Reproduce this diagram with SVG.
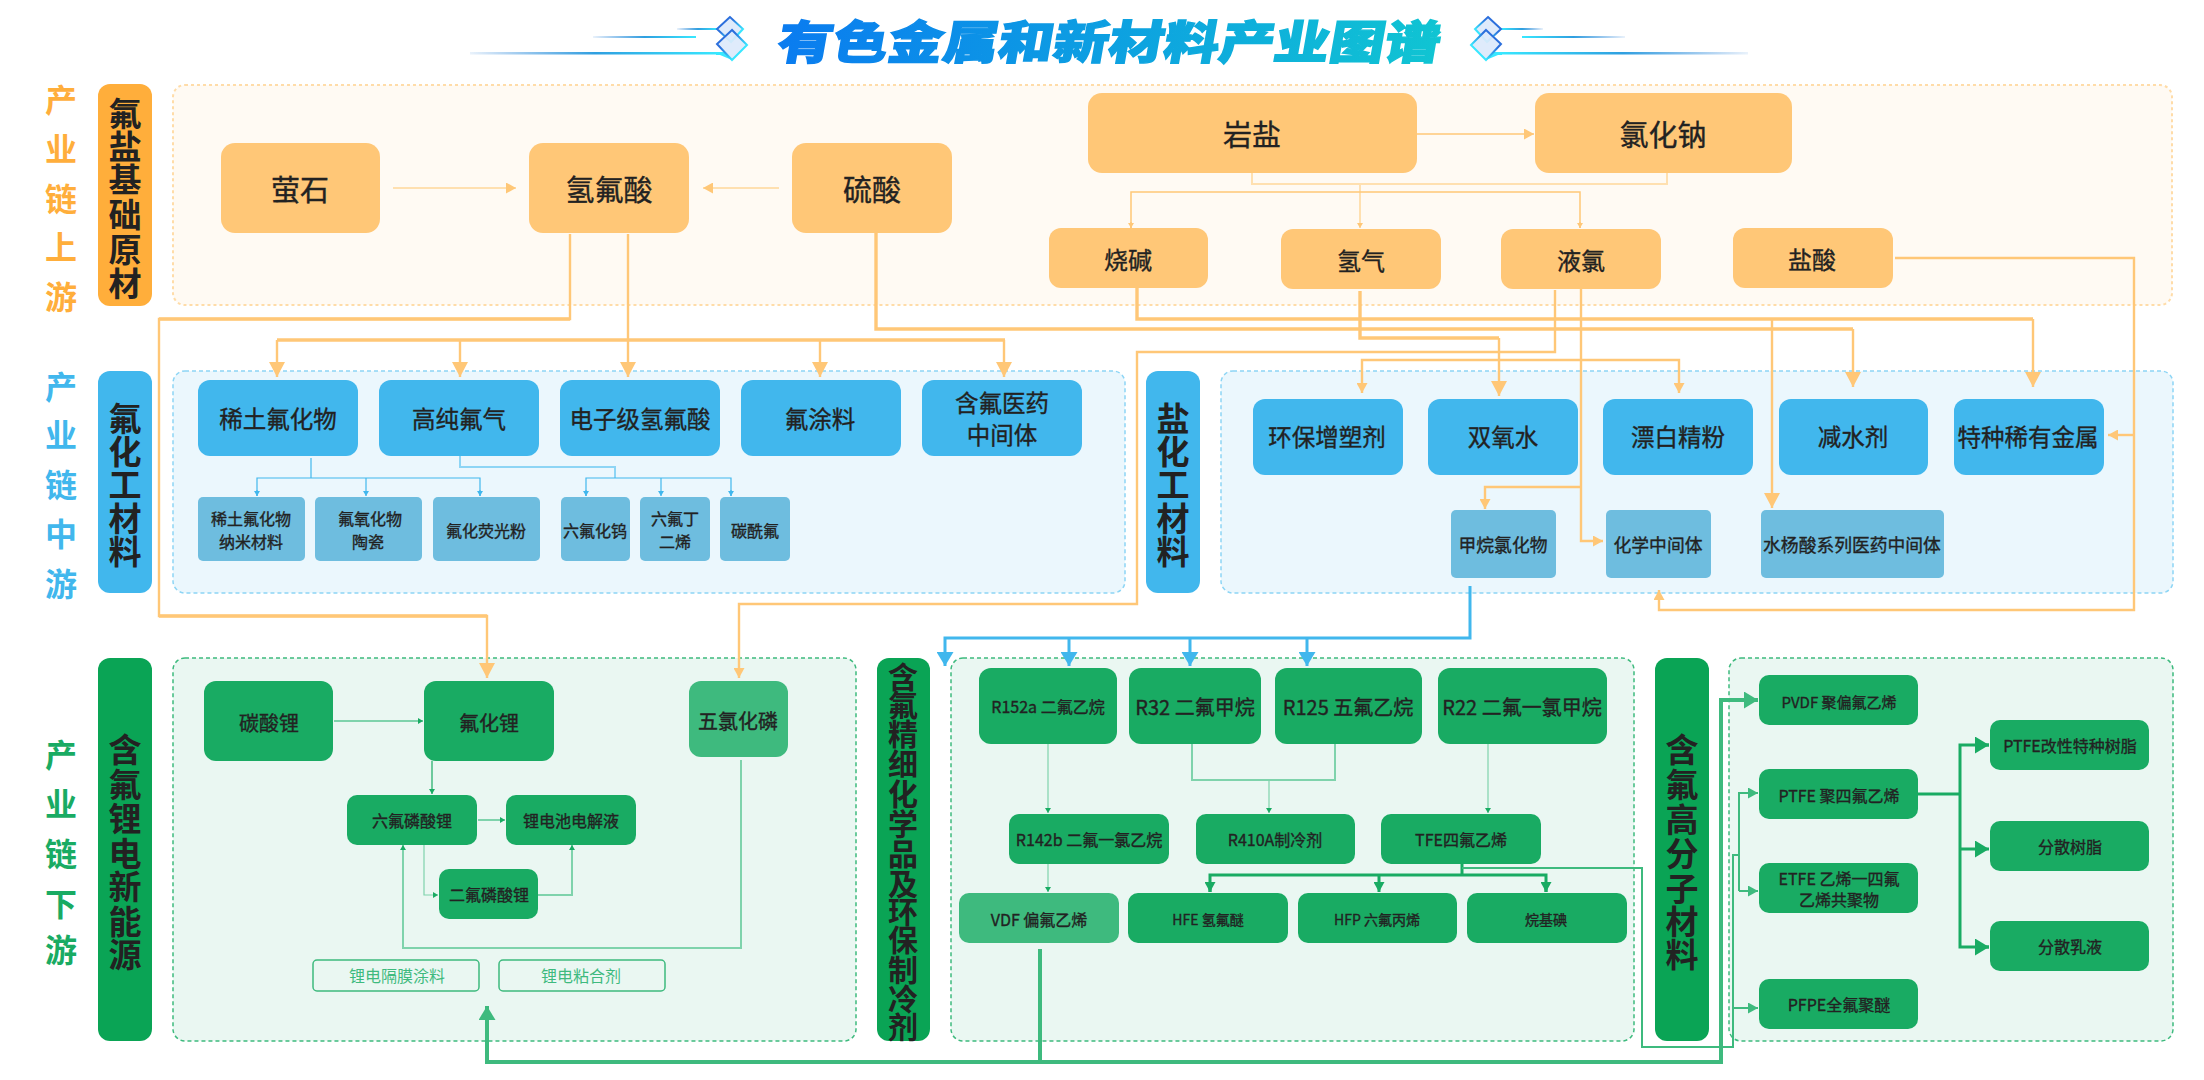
<svg xmlns="http://www.w3.org/2000/svg" width="2204" height="1080" viewBox="0 0 2204 1080">
<style>
text{font-family:"Noto Sans CJK SC","Noto Sans",sans-serif;text-anchor:middle;dominant-baseline:central;fill:#222;font-weight:400;stroke:#222;stroke-width:.35px}
.p1{fill:#FFFAF3;stroke:#FFDCA8;stroke-width:2;stroke-dasharray:3 3}
.p2{fill:#EBF7FD;stroke:#8DD5F5;stroke-width:1.5;stroke-dasharray:4 3}
.p3{fill:#EAF7F2;stroke:#3EBA7E;stroke-width:1.5;stroke-dasharray:4 3}
.o{fill:#FFC777}.b{fill:#41B7ED}.bc{fill:#6EBDDF}.g{fill:#19AB63}.gl{fill:#3EBA7E}.gh{fill:#0AA455}.ob{fill:#41B7ED}.oh{fill:#FFAE3B}
.out{fill:#EAF7F2;stroke:#3EBA7E;stroke-width:1.5}
text.hd{font-size:33px;font-weight:700;stroke:none}
text.hd2{font-size:30px;font-weight:700;stroke:none}
text.chain{font-size:32px;font-weight:700;stroke:none}
.f14{font-size:14px}.f16{font-size:16px}.f15{font-size:15px}.f178{font-size:17.8px}.f20{font-size:20px}.f23{font-size:23.5px}.f24{font-size:24px}.f29{font-size:29px}
text.lt{fill:#3EBA7E;stroke:none}
path.c{fill:none;stroke-linejoin:miter}
.co{stroke:#FFC777;stroke-width:2.4}.co3{stroke:#FFC777;stroke-width:3.4}.co1{stroke:#FFC777;stroke-width:1.5}.col{stroke:#FFE0B0;stroke-width:2}
.cb{stroke:#41B7ED;stroke-width:3}.cb1{stroke:#41B7ED;stroke-width:1.2}.cbl{stroke:#8DD5F5;stroke-width:2}
.cg{stroke:#19AB63;stroke-width:3}.cg1{stroke:#19AB63;stroke-width:1.2}.cgl{stroke:#7FD3AC;stroke-width:2}.cgl1{stroke:#7FD3AC;stroke-width:1.2}.cgm{stroke:#3EBA7E;stroke-width:3}.cgm4{stroke:#3EBA7E;stroke-width:4}.cgm2{stroke:#3EBA7E;stroke-width:2}
.dm{fill:#DCE9FB;fill-opacity:.92;stroke:url(#dg);stroke-width:2}
</style>
<defs>
<linearGradient id="tg" gradientUnits="userSpaceOnUse" x1="-280" y1="0" x2="280" y2="0"><stop offset="0" stop-color="#0A7BF0"/><stop offset="1" stop-color="#10C5D2"/></linearGradient>
<linearGradient id="dg" x1="0" y1="0" x2="1" y2="1"><stop offset=".35" stop-color="#2C6FDC"/><stop offset=".75" stop-color="#38E8FF"/></linearGradient>
<linearGradient id="lf"><stop offset="0" stop-color="#2A7FD8" stop-opacity=".1"/><stop offset=".5" stop-color="#2F9FE0"/><stop offset="1" stop-color="#38E8FF"/></linearGradient>
<linearGradient id="rf"><stop offset="0" stop-color="#38E8FF"/><stop offset=".5" stop-color="#2F9FE0"/><stop offset="1" stop-color="#2A7FD8" stop-opacity=".1"/></linearGradient>
<marker id="ol" markerUnits="userSpaceOnUse" markerWidth="15" markerHeight="16" refX="15" refY="8" orient="auto"><path d="M0 0L15 8L0 16z" fill="#FFC777"/></marker>
<marker id="om" markerUnits="userSpaceOnUse" markerWidth="10" markerHeight="11" refX="10" refY="5.5" orient="auto"><path d="M0 0L10 5.5L0 11z" fill="#FFC777"/></marker>
<marker id="os" markerUnits="userSpaceOnUse" markerWidth="5" markerHeight="6" refX="5" refY="3" orient="auto"><path d="M0 0L5 3L0 6z" fill="#FFC777"/></marker>
<marker id="ml" markerUnits="userSpaceOnUse" markerWidth="14" markerHeight="17" refX="14" refY="8.5" orient="auto"><path d="M0 0L14 8.5L0 17z" fill="#41B7ED"/></marker>
<marker id="bs" markerUnits="userSpaceOnUse" markerWidth="5" markerHeight="6" refX="5" refY="3" orient="auto"><path d="M0 0L5 3L0 6z" fill="#41B7ED"/></marker>
<marker id="gl" markerUnits="userSpaceOnUse" markerWidth="14" markerHeight="17" refX="14" refY="8.5" orient="auto"><path d="M0 0L14 8.5L0 17z" fill="#19AB63"/></marker>
<marker id="gm" markerUnits="userSpaceOnUse" markerWidth="10" markerHeight="11" refX="10" refY="5.5" orient="auto"><path d="M0 0L10 5.5L0 11z" fill="#19AB63"/></marker>
<marker id="gs" markerUnits="userSpaceOnUse" markerWidth="5" markerHeight="6" refX="5" refY="3" orient="auto"><path d="M0 0L5 3L0 6z" fill="#19AB63"/></marker>
<marker id="hl" markerUnits="userSpaceOnUse" markerWidth="14" markerHeight="17" refX="14" refY="8.5" orient="auto"><path d="M0 0L14 8.5L0 17z" fill="#3EBA7E"/></marker>
<marker id="hm" markerUnits="userSpaceOnUse" markerWidth="10" markerHeight="11" refX="10" refY="5.5" orient="auto"><path d="M0 0L10 5.5L0 11z" fill="#3EBA7E"/></marker>
<g id="deco"><path d="M716 52H726L732 60L720 55H716z" fill="#38E8FF"/><path class="dm" d="M730 17L717 29L731 42L743 29z"/><path class="dm" d="M732 30L717 44L732 60L747 45z"/></g>
</defs>
<g id="title">
<rect x="677" y="28" width="42" height="2" fill="url(#lf)"/><rect x="593" y="36" width="103" height="2" fill="url(#lf)"/><rect x="470" y="52" width="250" height="2.5" fill="url(#lf)"/>
<rect x="1501" y="28" width="42" height="2" fill="url(#rf)"/><rect x="1522" y="36" width="103" height="2" fill="url(#rf)"/><rect x="1498" y="52" width="250" height="2.5" fill="url(#rf)"/>
<use href="#deco"/><use href="#deco" transform="translate(2218 0) scale(-1 1)"/>
<text transform="translate(1110 39) skewX(-10) scale(1.2 1)" font-size="46" style="font-weight:900;fill:url(#tg);stroke:url(#tg);stroke-width:1.4px">有色金属和新材料产业图谱</text>
</g>
<g id="panels">
<rect class="p1" x="173" y="85" width="1999" height="220" rx="12"/>
<rect class="p2" x="173" y="371" width="952" height="222" rx="12"/>
<rect class="p2" x="1221" y="371" width="952" height="222" rx="12"/>
<rect class="p3" x="173" y="658" width="683" height="383" rx="12"/>
<rect class="p3" x="951" y="658" width="683" height="383" rx="12"/>
<rect class="p3" x="1729" y="658" width="444" height="383" rx="12"/>
</g>
<g id="chain-up"><text class="chain" style="fill:#FFAE3B" x="61 61 61 61 61" y="98 147 197 245 295">产业链上游</text></g>
<g id="chain-mid"><text class="chain" style="fill:#41B7ED" x="61 61 61 61 61" y="385 433 483 532 582">产业链中游</text></g>
<g id="chain-down"><text class="chain" style="fill:#19AB63" x="61 61 61 61 61" y="753 802 852 902 948">产业链下游</text></g>
<g id="h-fyan"><rect class="oh" x="98" y="84" width="54" height="222" rx="12"/><text class="hd" x="125 125 125 125 125 125" y="112 145 178 213 248 282">氟盐基础原材</text></g>
<g id="h-fhg"><rect class="ob" x="98" y="371" width="54" height="222" rx="12"/><text class="hd" x="125 125 125 125 125" y="417 450 483 517 550">氟化工材料</text></g>
<g id="h-yhg"><rect class="ob" x="1146" y="371" width="54" height="222" rx="12"/><text class="hd" x="1173 1173 1173 1173 1173" y="417 450 483 517 550">盐化工材料</text></g>
<g id="h-li"><rect class="gh" x="98" y="658" width="54" height="383" rx="12"/><text class="hd" x="125 125 125 125 125 125 125" y="748 783 817 852 885 920 953">含氟锂电新能源</text></g>
<g id="h-jx"><rect class="gh" x="877" y="658" width="53" height="383" rx="12"/><text class="hd2" x="903 903 903 903 903 903 903 903 903 903 903 903 903" y="675 703 732 762 792 822 852 882 910 938 968 997 1025">含氟精细化学品及环保制冷剂</text></g>
<g id="h-gfz"><rect class="gh" x="1655" y="658" width="54" height="383" rx="12"/><text class="hd" x="1682 1682 1682 1682 1682 1682 1682" y="748 783 818 852 887 920 953">含氟高分子材料</text></g>

<g id="connectors">
<path class="c col" d="M393 188H516" marker-end="url(#om)"/>
<path class="c col" d="M779 188H703" marker-end="url(#om)"/>
<path class="c co1" d="M1416 134H1534" marker-end="url(#om)"/>
<path class="c col" d="M1252 173V184H1667V173"/>
<path class="c col" d="M1360 184V228" marker-end="url(#os)"/>
<path class="c co1" d="M1131 228V192H1580V228"/>
<path class="c co1" d="M1131 222V228" marker-end="url(#os)"/><path class="c co1" d="M1580 222V228" marker-end="url(#os)"/>
<path class="c co" d="M570 234V319H159V616H487V678" marker-end="url(#ol)"/>
<path class="c co3" d="M159 319H570M159 616H487"/>
<path class="c co" d="M628 234V377" marker-end="url(#ol)"/>
<path class="c co3" d="M277 340H1005"/>
<path class="c co" d="M277 340V377" marker-end="url(#ol)"/>
<path class="c co" d="M460 340V377" marker-end="url(#ol)"/>
<path class="c co" d="M820 340V377" marker-end="url(#ol)"/>
<path class="c co" d="M1004 340V377" marker-end="url(#ol)"/>
<path class="c co3" d="M876 233V329H1853"/><path class="c co" d="M1853 329V387" marker-end="url(#ol)"/>
<path class="c co3" d="M1137 288V319H2033"/><path class="c co" d="M2033 319V387" marker-end="url(#ol)"/>
<path class="c co" d="M1772 319V508" marker-end="url(#ol)"/>
<path class="c co3" d="M1360 291V338H1499"/><path class="c co" d="M1499 338V396" marker-end="url(#ol)"/>
<path class="c co" d="M1555 290V352H1137V604H739V678" marker-end="url(#om)"/>
<path class="c co" d="M1581 289V487"/><path class="c co" d="M1581 487H1485V509" marker-end="url(#om)"/>
<path class="c co" d="M1581 487V541H1603" marker-end="url(#om)"/>
<path class="c co" d="M1362 393V360H1679V393"/><path class="c co1" d="M1362 385V393" marker-end="url(#om)"/><path class="c co1" d="M1679 385V393" marker-end="url(#om)"/>
<path class="c co" d="M1895 258H2134V610H1659V590" marker-end="url(#om)"/>
<path class="c co" d="M2134 435H2108" marker-end="url(#om)"/>
<path class="c cb1" d="M311 458V478"/><path class="c cb1" d="M257 496V478H480V496"/><path class="c cb1" d="M257 490V496" marker-end="url(#bs)"/><path class="c cb1" d="M480 490V496" marker-end="url(#bs)"/><path class="c cb1" d="M366 478V496" marker-end="url(#bs)"/>
<path class="c cbl" d="M460 456V467H615V478"/>
<path class="c cb1" d="M586 496V478H731V496"/><path class="c cb1" d="M586 490V496" marker-end="url(#bs)"/><path class="c cb1" d="M731 490V496" marker-end="url(#bs)"/><path class="c cb1" d="M661 478V496" marker-end="url(#bs)"/>
<path class="c cb" d="M1470 586V638H945V666" marker-end="url(#ml)"/>
<path class="c cb" d="M1069 638V666" marker-end="url(#ml)"/>
<path class="c cb" d="M1190 638V666" marker-end="url(#ml)"/>
<path class="c cb" d="M1307 638V666" marker-end="url(#ml)"/>
<path class="c cgl" d="M334 721H423" marker-end="url(#gs)"/>
<path class="c cg1" d="M432 761V794" marker-end="url(#gs)"/>
<path class="c cgl" d="M478 820H505" marker-end="url(#gs)"/>
<path class="c cgl1" d="M424 845V895H438" marker-end="url(#gs)"/>
<path class="c cgl" d="M538 895H572V845" marker-end="url(#gs)"/>
<path class="c cgl" d="M741 760V948H403V845" marker-end="url(#gs)"/>
<path class="c cgm4" d="M1721 1062H487V1006" marker-end="url(#hl)"/>
<path class="c cgm4" d="M1040 949V1062"/>
<path class="c cgm4" d="M1721 1064V700H1758" marker-end="url(#hl)"/>
<path class="c cgl1" d="M1048 744V813" marker-end="url(#gs)"/>
<path class="c cgl1" d="M1048 864V892" marker-end="url(#gs)"/>
<path class="c cgl" d="M1192 744V780H1335V744"/>
<path class="c cgl1" d="M1269 780V813" marker-end="url(#gs)"/>
<path class="c cgl1" d="M1488 744V813" marker-end="url(#gs)"/>
<path class="c cg" d="M1462 864V875"/>
<path class="c cg" d="M1210 892V875H1546V892"/>
<path class="c cg" d="M1210 884V892" marker-end="url(#gm)"/><path class="c cg" d="M1546 884V892" marker-end="url(#gm)"/><path class="c cg" d="M1379 875V892" marker-end="url(#gm)"/>
<path class="c cgm2" d="M1462 868H1642V1047H1733V855H1739"/>
<path class="c cgm2" d="M1739 891V793H1758" marker-end="url(#hm)"/>
<path class="c cgm2" d="M1739 891H1758" marker-end="url(#hm)"/>
<path class="c cgm2" d="M1733 1008H1758" marker-end="url(#hm)"/>
<path class="c cg" d="M1918 794H1960"/>
<path class="c cg" d="M1989 745H1960V947H1989"/><path class="c cg" d="M1980 745H1989" marker-end="url(#gl)"/><path class="c cg" d="M1980 947H1989" marker-end="url(#gl)"/><path class="c cg" d="M1960 849H1989" marker-end="url(#gl)"/>
</g>

<g id="n-yingshi"><rect class="o" x="221" y="143" width="159" height="90" rx="14"/><text class="f29" x="300" y="188">萤石</text></g>
<g id="n-qfs"><rect class="o" x="529" y="143" width="160" height="90" rx="14"/><text class="f29" x="609" y="188">氢氟酸</text></g>
<g id="n-ls"><rect class="o" x="792" y="143" width="160" height="90" rx="14"/><text class="f29" x="872" y="188">硫酸</text></g>
<g id="n-ys"><rect class="o" x="1088" y="93" width="329" height="80" rx="14"/><text class="f29" x="1252" y="133">岩盐</text></g>
<g id="n-lhn"><rect class="o" x="1535" y="93" width="257" height="80" rx="14"/><text class="f29" x="1663" y="133">氯化钠</text></g>
<g id="n-sj"><rect class="o" x="1049" y="228" width="159" height="60" rx="12"/><text class="f24" x="1128" y="258">烧碱</text></g>
<g id="n-qq"><rect class="o" x="1281" y="229" width="160" height="60" rx="12"/><text class="f24" x="1361" y="259">氢气</text></g>
<g id="n-yl"><rect class="o" x="1501" y="229" width="160" height="60" rx="12"/><text class="f24" x="1581" y="259">液氯</text></g>
<g id="n-ysuan"><rect class="o" x="1733" y="228" width="160" height="60" rx="12"/><text class="f24" x="1812" y="258">盐酸</text></g>

<g id="n-xtfhw"><rect class="b" x="198" y="380" width="160" height="76" rx="12"/><text class="f23" x="278" y="418">稀土氟化物</text></g>
<g id="n-gcfq"><rect class="b" x="379" y="380" width="160" height="76" rx="12"/><text class="f23" x="459" y="418">高纯氟气</text></g>
<g id="n-dzj"><rect class="b" x="560" y="380" width="160" height="76" rx="12"/><text class="f23" x="640" y="418">电子级氢氟酸</text></g>
<g id="n-ftl"><rect class="b" x="741" y="380" width="160" height="76" rx="12"/><text class="f23" x="820" y="418">氟涂料</text></g>
<g id="n-hfyy"><rect class="b" x="922" y="380" width="160" height="76" rx="12"/><text class="f23" x="1002" y="402">含氟医药</text><text class="f23" x="1002" y="434">中间体</text></g>
<g id="c-xtnm"><rect class="bc" x="198" y="497" width="107" height="64" rx="5"/><text class="f16" x="251" y="518">稀土氟化物</text><text class="f16" x="251" y="541">纳米材料</text></g>
<g id="c-fyh"><rect class="bc" x="315" y="497" width="107" height="64" rx="5"/><text class="f16" x="370" y="518">氟氧化物</text><text class="f16" x="368" y="541">陶瓷</text></g>
<g id="c-yg"><rect class="bc" x="433" y="497" width="107" height="64" rx="5"/><text class="f16" x="486" y="530">氟化荧光粉</text></g>
<g id="c-lw"><rect class="bc" x="561" y="497" width="69" height="64" rx="5"/><text class="f16" x="595" y="530">六氟化钨</text></g>
<g id="c-ld"><rect class="bc" x="640" y="497" width="70" height="64" rx="5"/><text class="f16" x="675" y="518">六氟丁</text><text class="f16" x="675" y="541">二烯</text></g>
<g id="c-txf"><rect class="bc" x="720" y="497" width="70" height="64" rx="5"/><text class="f16" x="755" y="530">碳酰氟</text></g>

<g id="n-hbzs"><rect class="b" x="1253" y="399" width="150" height="76" rx="12"/><text class="f23" x="1327" y="436">环保增塑剂</text></g>
<g id="n-syq"><rect class="b" x="1428" y="399" width="150" height="76" rx="12"/><text class="f23" x="1503" y="436">双氧水</text></g>
<g id="n-pb"><rect class="b" x="1603" y="399" width="150" height="76" rx="12"/><text class="f23" x="1678" y="436">漂白精粉</text></g>
<g id="n-jsj"><rect class="b" x="1779" y="399" width="149" height="76" rx="12"/><text class="f23" x="1853" y="436">减水剂</text></g>
<g id="n-tzxy"><rect class="b" x="1954" y="399" width="150" height="76" rx="12"/><text class="f23" x="2028" y="436">特种稀有金属</text></g>
<g id="c-jwl"><rect class="bc" x="1451" y="510" width="105" height="68" rx="5"/><text class="f178" x="1503" y="544">甲烷氯化物</text></g>
<g id="c-hx"><rect class="bc" x="1606" y="510" width="105" height="68" rx="5"/><text class="f178" x="1658" y="544">化学中间体</text></g>
<g id="c-syy"><rect class="bc" x="1761" y="510" width="183" height="68" rx="5"/><text class="f178" x="1852" y="544">水杨酸系列医药中间体</text></g>

<g id="n-tsl"><rect class="g" x="204" y="681" width="129" height="80" rx="12"/><text class="f20" x="269" y="722">碳酸锂</text></g>
<g id="n-fhl"><rect class="g" x="424" y="681" width="130" height="80" rx="12"/><text class="f20" x="489" y="722">氟化锂</text></g>
<g id="n-wlh"><rect class="gl" x="689" y="681" width="99" height="76" rx="12"/><text class="f20" x="738" y="720">五氯化磷</text></g>
<g id="n-lflsl"><rect class="g" x="347" y="795" width="130" height="50" rx="10"/><text class="f16" x="412" y="820">六氟磷酸锂</text></g>
<g id="n-ldj"><rect class="g" x="506" y="795" width="130" height="50" rx="10"/><text class="f16" x="571" y="820">锂电池电解液</text></g>
<g id="n-eflsl"><rect class="g" x="439" y="869" width="99" height="50" rx="10"/><text class="f16" x="489" y="894">二氟磷酸锂</text></g>
<g id="n-gm"><rect class="out" x="313" y="960" width="166" height="31" rx="4"/><text class="f16 lt" x="397" y="975">锂电隔膜涂料</text></g>
<g id="n-nhj"><rect class="out" x="499" y="960" width="166" height="31" rx="4"/><text class="f16 lt" x="581" y="975">锂电粘合剂</text></g>

<g id="n-r152a"><rect class="g" x="979" y="668" width="138" height="76" rx="12"/><text class="f16" x="1048" y="706">R152a 二氟乙烷</text></g>
<g id="n-r32"><rect class="g" x="1129" y="668" width="132" height="76" rx="12"/><text class="f20" x="1195" y="706">R32 二氟甲烷</text></g>
<g id="n-r125"><rect class="g" x="1275" y="668" width="147" height="76" rx="12"/><text class="f20" x="1348" y="706">R125 五氟乙烷</text></g>
<g id="n-r22"><rect class="g" x="1438" y="668" width="169" height="76" rx="12"/><text class="f20" x="1522" y="706">R22 二氟一氯甲烷</text></g>
<g id="n-r142b"><rect class="g" x="1009" y="814" width="160" height="50" rx="10"/><text class="f16" x="1089" y="839">R142b 二氟一氯乙烷</text></g>
<g id="n-r410a"><rect class="g" x="1196" y="814" width="159" height="50" rx="10"/><text class="f16" x="1275" y="839">R410A制冷剂</text></g>
<g id="n-tfe"><rect class="g" x="1381" y="814" width="160" height="50" rx="10"/><text class="f16" x="1461" y="839">TFE四氟乙烯</text></g>
<g id="n-vdf"><rect class="gl" x="959" y="893" width="160" height="50" rx="10"/><text class="f16" x="1039" y="919">VDF 偏氟乙烯</text></g>
<g id="n-hfe"><rect class="g" x="1128" y="893" width="160" height="50" rx="10"/><text class="f14" x="1208" y="919">HFE 氢氟醚</text></g>
<g id="n-hfp"><rect class="g" x="1298" y="893" width="159" height="50" rx="10"/><text class="f14" x="1377" y="919">HFP 六氟丙烯</text></g>
<g id="n-wjd"><rect class="g" x="1467" y="893" width="160" height="50" rx="10"/><text class="f14" x="1546" y="919">烷基碘</text></g>

<g id="n-pvdf"><rect class="g" x="1759" y="675" width="159" height="50" rx="10"/><text class="f15" x="1839" y="701">PVDF 聚偏氟乙烯</text></g>
<g id="n-ptfe"><rect class="g" x="1759" y="769" width="159" height="50" rx="10"/><text class="f16" x="1839" y="795">PTFE 聚四氟乙烯</text></g>
<g id="n-etfe"><rect class="g" x="1759" y="863" width="159" height="50" rx="10"/><text class="f16" x="1839" y="878">ETFE 乙烯一四氟</text><text class="f16" x="1839" y="899">乙烯共聚物</text></g>
<g id="n-pfpe"><rect class="g" x="1759" y="979" width="159" height="50" rx="10"/><text class="f16" x="1839" y="1004">PFPE全氟聚醚</text></g>
<g id="n-ptfe-m"><rect class="g" x="1990" y="720" width="159" height="50" rx="10"/><text class="f16" x="2070" y="745">PTFE改性特种树脂</text></g>
<g id="n-fssz"><rect class="g" x="1990" y="821" width="159" height="50" rx="10"/><text class="f16" x="2070" y="846">分散树脂</text></g>
<g id="n-fsry"><rect class="g" x="1990" y="921" width="159" height="50" rx="10"/><text class="f16" x="2070" y="946">分散乳液</text></g>
</svg>
